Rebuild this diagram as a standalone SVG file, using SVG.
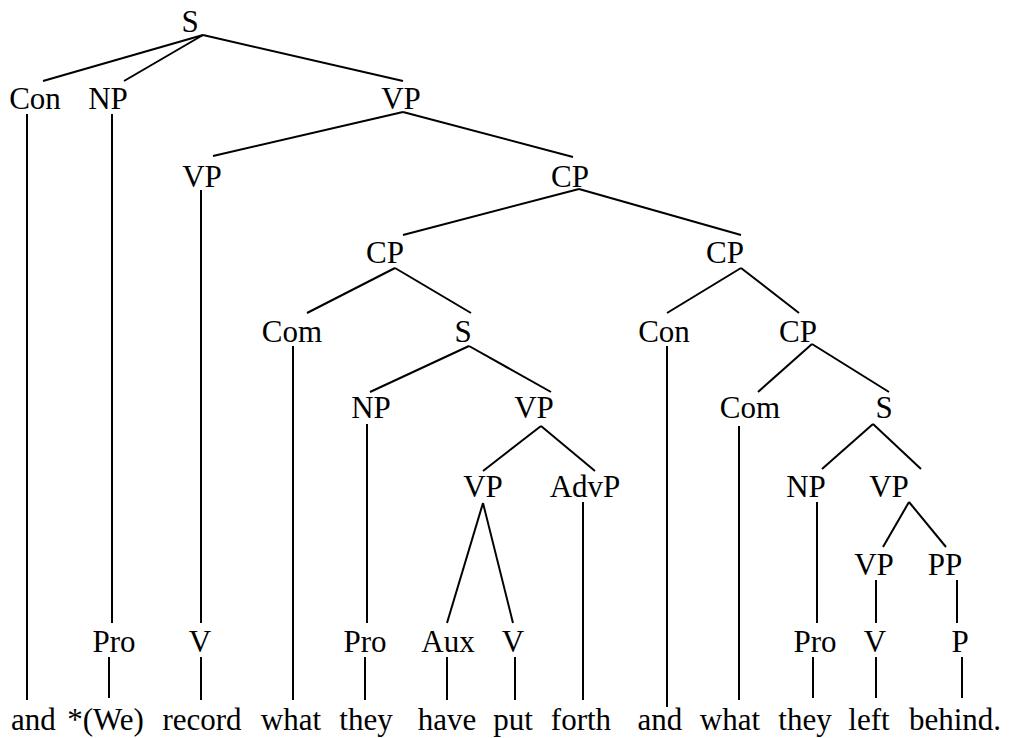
<svg xmlns="http://www.w3.org/2000/svg" width="1009" height="738" viewBox="0 0 1009 738">
<style>
text{font-family:"Liberation Serif","Times New Roman",serif;font-size:31px;fill:#000;text-anchor:middle}
line{stroke:#000;stroke-width:2;stroke-linecap:butt}
</style>
<rect width="1009" height="738" fill="#fff"/>
<g id="connectors">
<line x1="203" y1="35" x2="43" y2="81"/>
<line x1="203" y1="35" x2="124" y2="81"/>
<line x1="203" y1="35" x2="403" y2="81"/>
<line x1="27" y1="114" x2="27" y2="700"/>
<line x1="112" y1="114" x2="112" y2="623"/>
<line x1="403" y1="112" x2="213" y2="156"/>
<line x1="403" y1="112" x2="573" y2="157"/>
<line x1="201" y1="190" x2="201" y2="623"/>
<line x1="579" y1="189" x2="403" y2="235"/>
<line x1="579" y1="189" x2="741" y2="235"/>
<line x1="395" y1="268" x2="307" y2="313"/>
<line x1="395" y1="268" x2="471" y2="313"/>
<line x1="741" y1="268" x2="667" y2="313"/>
<line x1="741" y1="268" x2="799" y2="313"/>
<line x1="293" y1="346" x2="293" y2="700"/>
<line x1="667" y1="346" x2="667" y2="707"/>
<line x1="469" y1="346" x2="370" y2="392"/>
<line x1="469" y1="346" x2="551" y2="392"/>
<line x1="812" y1="344" x2="758" y2="392"/>
<line x1="812" y1="344" x2="889" y2="392"/>
<line x1="367" y1="424" x2="367" y2="623"/>
<line x1="541" y1="426" x2="483" y2="471"/>
<line x1="541" y1="426" x2="595" y2="471"/>
<line x1="739" y1="426" x2="739" y2="700"/>
<line x1="873" y1="424" x2="822" y2="469"/>
<line x1="873" y1="424" x2="921" y2="469"/>
<line x1="483" y1="503" x2="447" y2="623"/>
<line x1="483" y1="503" x2="513" y2="623"/>
<line x1="583" y1="502" x2="583" y2="700"/>
<line x1="817" y1="502" x2="817" y2="623"/>
<line x1="909" y1="502" x2="883" y2="547"/>
<line x1="909" y1="502" x2="946" y2="547"/>
<line x1="876" y1="580" x2="876" y2="623"/>
<line x1="957" y1="580" x2="957" y2="623"/>
<line x1="109" y1="657" x2="109" y2="698"/>
<line x1="201" y1="657" x2="201" y2="700"/>
<line x1="365" y1="657" x2="365" y2="700"/>
<line x1="447" y1="657" x2="447" y2="700"/>
<line x1="515" y1="657" x2="515" y2="700"/>
<line x1="813" y1="657" x2="813" y2="698"/>
<line x1="876" y1="657" x2="876" y2="698"/>
<line x1="962" y1="657" x2="962" y2="698"/>
</g>
<g id="n-S"><text x="190" y="32">S</text></g>
<g id="n-Con1"><text x="35" y="109">Con</text></g>
<g id="n-NP1"><text x="108" y="109">NP</text></g>
<g id="n-VP1"><text x="401" y="109">VP</text></g>
<g id="n-VP2"><text x="202" y="187">VP</text></g>
<g id="n-CP1"><text x="570" y="187">CP</text></g>
<g id="n-CP2"><text x="385" y="263">CP</text></g>
<g id="n-CP3"><text x="725" y="263">CP</text></g>
<g id="n-Com1"><text x="292" y="342">Com</text></g>
<g id="n-S2"><text x="463" y="342">S</text></g>
<g id="n-Con2"><text x="664" y="342">Con</text></g>
<g id="n-CP4"><text x="798" y="342">CP</text></g>
<g id="n-NP2"><text x="371" y="418">NP</text></g>
<g id="n-VP3"><text x="534" y="418">VP</text></g>
<g id="n-Com2"><text x="750" y="418">Com</text></g>
<g id="n-S3"><text x="884" y="418">S</text></g>
<g id="n-VP4"><text x="483" y="497">VP</text></g>
<g id="n-AdvP"><text x="585" y="497">AdvP</text></g>
<g id="n-NP3"><text x="806" y="497">NP</text></g>
<g id="n-VP5"><text x="889" y="497">VP</text></g>
<g id="n-VP6"><text x="874" y="575">VP</text></g>
<g id="n-PP"><text x="945" y="575">PP</text></g>
<g id="n-Pro1"><text x="114" y="652">Pro</text></g>
<g id="n-V1"><text x="200" y="652">V</text></g>
<g id="n-Pro2"><text x="365" y="652">Pro</text></g>
<g id="n-Aux"><text x="448" y="652">Aux</text></g>
<g id="n-V2"><text x="513" y="652">V</text></g>
<g id="n-Pro3"><text x="815" y="652">Pro</text></g>
<g id="n-V3"><text x="875" y="652">V</text></g>
<g id="n-P"><text x="960" y="652">P</text></g>
<g id="w-and1"><text x="33.5" y="730">and</text></g>
<g id="w-we"><text x="105.5" y="730">*(We)</text></g>
<g id="w-record"><text x="202" y="730">record</text></g>
<g id="w-what1"><text x="291" y="730">what</text></g>
<g id="w-they1"><text x="366" y="730">they</text></g>
<g id="w-have"><text x="447" y="730">have</text></g>
<g id="w-put"><text x="513" y="730">put</text></g>
<g id="w-forth"><text x="581" y="730">forth</text></g>
<g id="w-and2"><text x="660" y="730">and</text></g>
<g id="w-what2"><text x="730" y="730">what</text></g>
<g id="w-they2"><text x="805" y="730">they</text></g>
<g id="w-left"><text x="869" y="730">left</text></g>
<g id="w-behind"><text x="955" y="730">behind.</text></g>
</svg>
